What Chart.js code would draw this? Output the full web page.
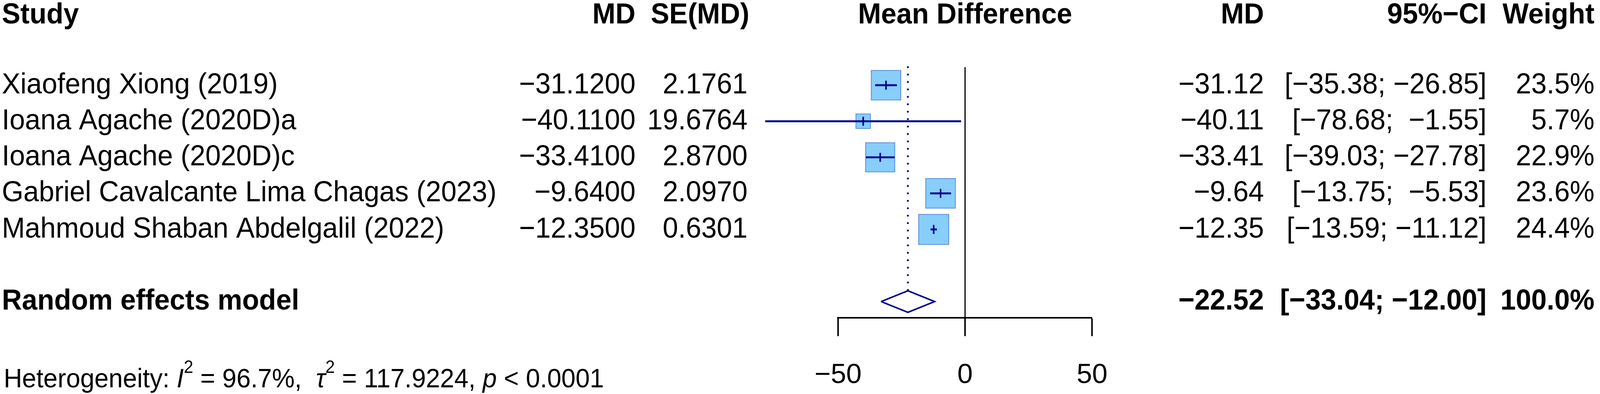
<!DOCTYPE html>
<html>
<head>
<meta charset="utf-8">
<style>
html, body { margin: 0; padding: 0; background: #fff; overflow: hidden; }
canvas { display: block; }
</style>
<script src="https://cdn.jsdelivr.net/npm/chart.js@4.4.1/dist/chart.umd.min.js"></script>
</head>
<body>
<canvas id="forest"></canvas>
<script>
// values
var studies = [
	'Xiaofeng Xiong (2019)',
	'Ioana Agache (2020D)a',
	'Ioana Agache (2020D)c',
	'Gabriel Cavalcante Lima Chagas (2023)',
	'Mahmoud Shaban Abdelgalil (2022)'
];
var md = [-31.12, -40.11, -33.41, -9.64, -12.35];
var seMd = [2.1761, 19.6764, 2.8700, 2.0970, 0.6301];
var ciLower = [-35.38, -78.68, -39.03, -13.75, -13.59];
var ciUpper = [-26.85, -1.55, -27.78, -5.53, -11.12];
var weights = [23.5, 5.7, 22.9, 23.6, 24.4];

var pooledMd = -22.52;
var pooledLower = -33.04;
var pooledUpper = -12.00;
var pooledWeight = 100.0;
var hetI2 = '96.7%';
var hetTau2 = '117.9224';
var hetP = '< 0.0001';

var xTicks = [-50, 0, 50];

// row numbers on the y scale (0 = header line)
var headerRow = 0.065;
var studyRows = [2, 3, 4, 5, 6];
var summaryRow = 8;
var hetRow = 10.12;

var FONT = '"Liberation Sans", Arial, Helvetica, sans-serif';
var NAVY = '#00008B';

// layout is worked out on a 4328 x 1008 page, then fitted to the window
var canvas = document.getElementById('forest');
var W = window.innerWidth || 4328;
var H = window.innerHeight || 1008;
canvas.width = W;
canvas.height = H;
var sx = W / 4328;
var sy = H / 1008;

function fmt(v, d) {
	return (v < 0 ? '\u2212' : '') + Math.abs(v).toFixed(d);
}

function padLeft(s, n) {
	while (s.length < n) s = ' ' + s;
	return s;
}

function ciText(lo, hi) {
	return '[' + padLeft(fmt(lo, 2), 6) + '; ' + padLeft(fmt(hi, 2), 6) + ']';
}

// CI segments, broken between studies
var ciData = [];
for (var i = 0; i < studies.length; i++) {
	ciData.push({ x: ciLower[i], y: studyRows[i] });
	ciData.push({ x: ciUpper[i], y: studyRows[i] });
	ciData.push({ x: ciUpper[i], y: null });
}

var pointData = md.map(function (v, i) {
	return { x: v, y: studyRows[i] };
});

var diamondHalf = 0.3;
var boxScale = 16.03 * Math.sqrt(sx * sy);

var tablePlugin = {
	id: 'forestTable',
	afterDraw: function (chart) {
		var ctx = chart.ctx;
		var ys = chart.scales.y;
		var xs = chart.scales.x;
		ctx.save();
		ctx.fillStyle = '#000';

		function put(text, px, row, align, bold, size) {
			ctx.save();
			ctx.font = (bold ? 'bold ' : '') + (size || 75) * sy + 'px ' + FONT;
			ctx.textAlign = align;
			ctx.textBaseline = 'middle';
			ctx.translate(px, ys.getPixelForValue(row));
			ctx.scale(sx / sy, 1);
			ctx.fillText(text, 0, 0);
			ctx.restore();
		}

		// header
		put('Study', 5 * sx, headerRow, 'left', true);
		put('MD', 1719 * sx, headerRow, 'right', true);
		put('SE(MD)', 2027 * sx, headerRow, 'right', true);
		put('Mean Difference', xs.getPixelForValue(0), headerRow, 'center', true);
		put('MD', 3419 * sx, headerRow, 'right', true);
		put('95%\u2212CI', 4021 * sx, headerRow, 'right', true);
		put('Weight', 4313 * sx, headerRow, 'right', true);

		for (var i = 0; i < studies.length; i++) {
			var r = studyRows[i];
			put(studies[i], 5 * sx, r, 'left');
			put(fmt(md[i], 4), 1719 * sx, r, 'right');
			put(seMd[i].toFixed(4), 2022 * sx, r, 'right');
			put(fmt(md[i], 2), 3419 * sx, r, 'right');
			put(ciText(ciLower[i], ciUpper[i]), 4021 * sx, r, 'right');
			put(weights[i].toFixed(1) + '%', 4313 * sx, r, 'right');
		}

		put('Random effects model', 5 * sx, summaryRow, 'left', true);
		put(fmt(pooledMd, 2), 3419 * sx, summaryRow, 'right', true);
		put(ciText(pooledLower, pooledUpper), 4021 * sx, summaryRow, 'right', true);
		put(pooledWeight.toFixed(1) + '%', 4313 * sx, summaryRow, 'right', true);

		// heterogeneity line with italics and superscripts
		var size = 69 * sy;
		var base = ys.getPixelForValue(hetRow) + 0.35 * size;
		var px = 10 * sx;
		ctx.textAlign = 'left';
		ctx.textBaseline = 'alphabetic';
		var parts = [
			['Heterogeneity: ', '', size, 0],
			['I', 'italic ', size, 0],
			['2', '', 46 * sy, 37 * sy],
			[' = ' + hetI2 + ',  ', '', size, 0],
			['\u03C4', 'italic ', size, 0],
			['2', '', 46 * sy, 37 * sy],
			[' = ' + hetTau2 + ', ', '', size, 0],
			['p', 'italic ', size, 0],
			[' ' + hetP, '', size, 0]
		];
		parts.forEach(function (p) {
			ctx.font = p[1] + p[2] + 'px ' + FONT;
			ctx.save();
			ctx.translate(px, base - p[3]);
			ctx.scale(sx / sy, 1);
			ctx.fillText(p[0], 0, 0);
			ctx.restore();
			px += ctx.measureText(p[0]).width * sx / sy;
		});
		ctx.restore();
	}
};

// eslint-disable-next-line no-undef
var chart = new Chart(canvas, {
	type: 'scatter',
	data: {
		datasets: [{
			// weight boxes
			data: pointData,
			pointStyle: 'rect',
			pointRadius: weights.map(function (w) { return boxScale * Math.sqrt(w) / Math.SQRT2; }),
			backgroundColor: '#87CEFA',
			borderColor: '#5B8CD6',
			borderWidth: 2,
			clip: false,
			order: 6
		}, {
			// confidence intervals
			data: ciData,
			showLine: true,
			spanGaps: false,
			borderColor: NAVY,
			borderWidth: 5,
			pointRadius: 0,
			clip: false,
			order: 4
		}, {
			// point estimate marks
			data: pointData,
			pointStyle: 'line',
			rotation: 90,
			pointRadius: 11.5 * sy,
			borderColor: NAVY,
			borderWidth: 4,
			clip: false,
			order: 3
		}, {
			// pooled estimate, dotted
			data: [{ x: pooledMd, y: 1.5 }, { x: pooledMd, y: summaryRow - diamondHalf }],
			showLine: true,
			borderColor: NAVY,
			borderWidth: 5,
			borderDash: [0, 19 * sy],
			borderCapStyle: 'round',
			pointRadius: 0,
			clip: false,
			order: 5
		}, {
			// line of no effect
			data: [{ x: 0, y: 1.5 }, { x: 0, y: 8.45 }],
			showLine: true,
			borderColor: '#000',
			borderWidth: 3,
			pointRadius: 0,
			clip: false,
			order: 7
		}, {
			// summary diamond
			data: [
				{ x: pooledLower, y: summaryRow },
				{ x: pooledMd, y: summaryRow - diamondHalf },
				{ x: pooledUpper, y: summaryRow },
				{ x: pooledMd, y: summaryRow + diamondHalf },
				{ x: pooledLower, y: summaryRow }
			],
			showLine: true,
			fill: false,
			borderColor: NAVY,
			borderWidth: 4,
			borderJoinStyle: 'miter',
			pointRadius: 0,
			tension: 0,
			clip: false,
			order: 2
		}]
	},
	options: {
		responsive: false,
		devicePixelRatio: 1,
		animation: false,
		events: [],
		layout: {
			autoPadding: false,
			padding: { left: 2267 * sx, right: W - 2954 * sx, top: 0, bottom: 0 }
		},
		plugins: {
			legend: { display: false },
			tooltip: { enabled: false }
		},
		scales: {
			x: {
				type: 'linear',
				position: 'bottom',
				min: xTicks[0],
				max: xTicks[xTicks.length - 1],
				afterBuildTicks: function (scale) {
					scale.ticks = xTicks.map(function (v) { return { value: v }; });
				},
				afterFit: function (scale) {
					scale.height = 195 * sy;
				},
				ticks: {
					font: { family: FONT, size: 75 * sx },
					color: '#000',
					padding: 58 * sy,
					maxRotation: 0,
					autoSkip: false,
					callback: function (v) { return fmt(v, 0); }
				},
				grid: {
					drawOnChartArea: false,
					drawTicks: true,
					tickLength: 47 * sy,
					tickWidth: 4,
					tickColor: '#000'
				},
				border: { display: true, color: '#000', width: 4 }
			},
			y: {
				type: 'linear',
				display: false,
				reverse: true,
				min: -0.363,
				max: 8.45
			}
		}
	},
	plugins: [tablePlugin]
});
</script>
</body>
</html>
